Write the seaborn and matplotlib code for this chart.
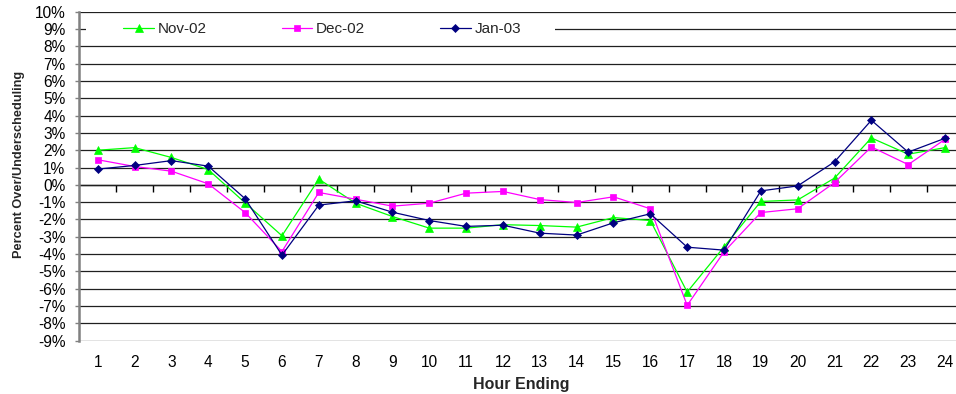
import matplotlib
matplotlib.use("Agg")
import matplotlib.pyplot as plt
import matplotlib.transforms as mtransforms
from matplotlib.patches import Rectangle
import seaborn as sns
import pandas as pd

# Hourly over/under-scheduling, percent
hours = list(range(1, 25))
nov_02 = [2.00, 2.15, 1.58, 0.88, -1.04, -2.94, 0.33, -1.06, -1.83, -2.50,
          -2.50, -2.30, -2.35, -2.44, -1.89, -2.06, -6.19, -3.58, -0.96, -0.87,
          0.39, 2.71, 1.77, 2.15]
dec_02 = [1.45, 1.06, 0.79, 0.06, -1.60, -3.85, -0.44, -0.83, -1.23, -1.06,
          -0.48, -0.38, -0.85, -1.02, -0.69, -1.38, -6.96, -3.87, -1.60, -1.38,
          0.13, 2.19, 1.17, 2.63]
jan_03 = [0.91, 1.12, 1.40, 1.08, -0.80, -4.06, -1.17, -0.92, -1.58, -2.06,
          -2.40, -2.33, -2.79, -2.90, -2.19, -1.67, -3.60, -3.77, -0.35, -0.06,
          1.33, 3.73, 1.89, 2.69]
series_names = ["Nov-02", "Dec-02", "Jan-03"]
y_ticks = list(range(-9, 11))

df = pd.DataFrame({
    "hour": hours * 3,
    "pct": nov_02 + dec_02 + jan_03,
    "month": [n for n in series_names for _ in hours],
})

sns.set_theme(style="white")
plt.rcParams["font.family"] = ["Liberation Sans", "DejaVu Sans"]
plt.rcParams["axes.unicode_minus"] = False

fig = plt.figure(figsize=(9.56, 3.94), dpi=100)
ax = fig.add_axes([0.0830, 0.1353, 0.9248, 0.835])

styles = {
    "Nov-02": dict(color="#00FF00", marker="^", markersize=5.8),
    "Dec-02": dict(color="#FF00FF", marker="s", markersize=4.6),
    "Jan-03": dict(color="#000080", marker="D", markersize=4.0),
}
for name in series_names:
    st = styles[name]
    sns.lineplot(data=df[df["month"] == name], x="hour", y="pct", ax=ax,
                 color=st["color"], marker=st["marker"],
                 markersize=st["markersize"], markeredgecolor=st["color"],
                 markeredgewidth=0.5, linewidth=0.9, label=name,
                 legend=False, zorder=3)

ax.set_xlim(0.5, 24.5)
ax.set_ylim(-9, 10)

# y axis: percent labels with gridlines
ax.set_yticks(y_ticks)
ax.set_yticklabels([f"{v}%" for v in y_ticks], fontsize=11.2)
ax.yaxis.grid(True, color="#202020", linewidth=0.9, zorder=0.5)
ax.xaxis.grid(False)
ax.tick_params(axis="y", length=3, width=1, color="#808080", pad=7,
               left=True, labelcolor="black")

# x axis: hour labels under the plot
ax.set_xticks(hours)
ax.set_xticklabels([str(h) for h in hours], fontsize=11.2)
ax.tick_params(axis="x", length=0, pad=10, labelcolor="black")

ax.set_xlabel("Hour Ending", fontsize=11.5, fontweight="bold")
ax.xaxis.set_label_coords(0.5, -0.11)
ax.set_ylabel("Percent Over/Underscheduling", fontsize=9.2, fontweight="bold")
ax.yaxis.set_label_coords(-0.062, 0.537)

for side in ("top", "right", "bottom"):
    ax.spines[side].set_visible(False)
ax.spines["left"].set_color("#808080")
ax.spines["left"].set_linewidth(1.8)

# category axis drawn along the zero line, with ticks between hours
zero_axis = ax.secondary_xaxis(0, transform=ax.transData)
zero_axis.set_xticks([h + 0.5 for h in hours[:-1]])
zero_axis.set_xticklabels([])
zero_axis.tick_params(axis="x", direction="out", length=5, width=1,
                      color="black")
zero_axis.spines["bottom"].set_color("black")
zero_axis.spines["bottom"].set_linewidth(1.0)

# white band behind the legend row
blend = mtransforms.blended_transform_factory(ax.transAxes, ax.transData)
ax.add_patch(Rectangle((0.0076, 8.6), 0.5307, 0.8, transform=blend,
                       facecolor="white", edgecolor="none", zorder=1))

handles, labels = ax.get_legend_handles_labels()
leg = ax.legend(handles, labels, loc="center left",
                bbox_to_anchor=(0.0498, 9), bbox_transform=blend,
                ncol=3, frameon=False, fontsize=11.0, handlelength=2.0,
                handletextpad=0.25, columnspacing=4.9, borderpad=0,
                borderaxespad=0)
leg.set_zorder(5)

fig.savefig("out.png", dpi=100)
